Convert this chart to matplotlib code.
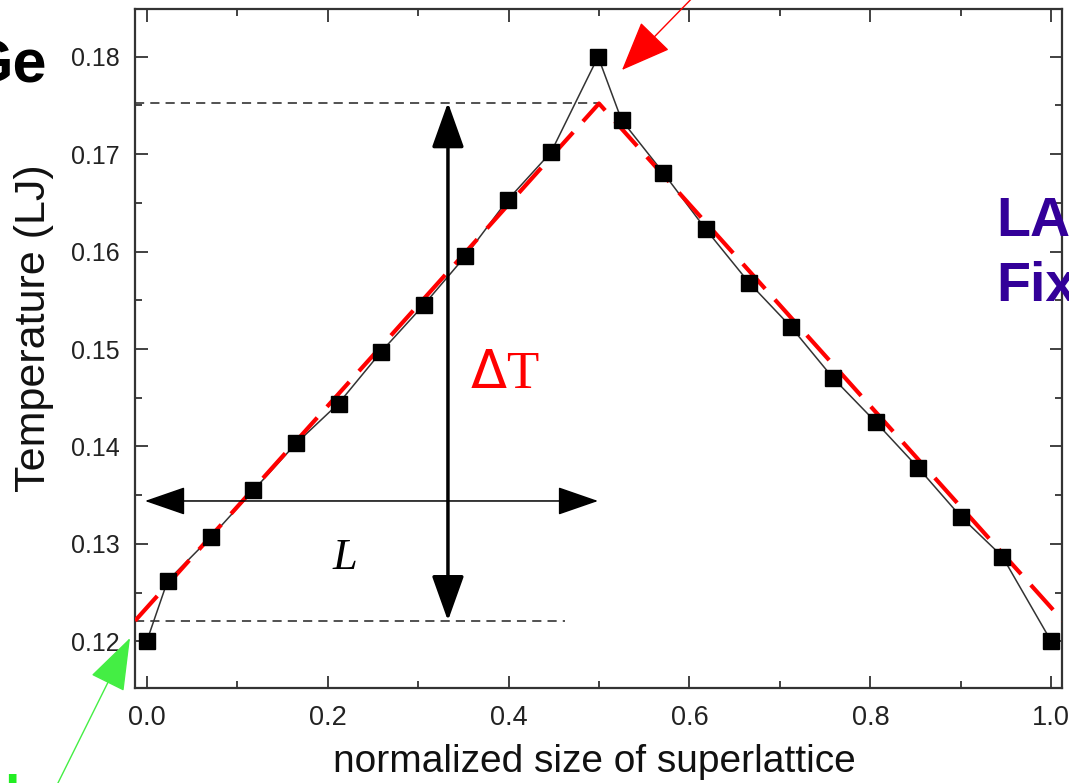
import numpy as np
import matplotlib
matplotlib.use("Agg")
import matplotlib.pyplot as plt
from matplotlib.ticker import MultipleLocator, FormatStrFormatter

plt.rcParams["font.family"] = ["Liberation Sans", "DejaVu Sans"]

# temperature profile along the superlattice
pos = [0.0, 0.023, 0.071, 0.118, 0.165, 0.212, 0.259, 0.306, 0.352, 0.399,
       0.447, 0.499, 0.525, 0.571, 0.618, 0.666, 0.712, 0.759, 0.806, 0.853,
       0.900, 0.946, 1.0]
temp = [0.1200, 0.1262, 0.1307, 0.1355, 0.1403, 0.1444, 0.1497, 0.1545,
        0.1595, 0.1653, 0.1702, 0.1800, 0.1735, 0.1681, 0.1623, 0.1568,
        0.1523, 0.1470, 0.1425, 0.1378, 0.1328, 0.1287, 0.1200]

# linear fit (red dashed)
fit_x = [-0.013, 0.5, 1.013]
fit_y = [0.1221, 0.1752, 0.1221]

t_hi = 0.1753
t_lo = 0.1221

fig = plt.figure(figsize=(10.69, 7.83), dpi=100, facecolor="white")
ax = fig.add_axes([0.1263, 0.1213, 0.8672, 0.8672])

ax.plot(pos, temp, color="#333333", lw=1.1, zorder=2)
ax.plot(fit_x, fit_y, color="red", lw=3, dashes=(8, 3.5), zorder=3)
ax.plot(pos, temp, ls="none", marker="s", ms=11.5, color="black", zorder=4)

ax.plot([-0.013, 0.5], [t_hi, t_hi], color="#222222", lw=1.1, dashes=(6, 4), zorder=1)
ax.plot([-0.013, 0.462], [t_lo, t_lo], color="#222222", lw=1.1, dashes=(6, 4), zorder=1)

# delta T arrow
ax.annotate("", xy=(0.333, t_hi), xytext=(0.333, t_lo),
            arrowprops=dict(arrowstyle="<|-|>,head_length=1.4,head_width=0.5",
                            color="black", lw=2.5, mutation_scale=20,
                            shrinkA=0, shrinkB=0))
# L arrow
ax.annotate("", xy=(-0.002, 0.1344), xytext=(0.499, 0.1344),
            arrowprops=dict(arrowstyle="<|-|>,head_length=1.3,head_width=0.45",
                            color="black", lw=1.1, mutation_scale=20,
                            shrinkA=0, shrinkB=0))

ax.text(0.396, 0.1473, r"$\Delta$T", color="red", fontsize=38,
        family="Liberation Serif", ha="center", va="center")
ax.text(0.219, 0.1285, "L", color="black", fontsize=32,
        family="Liberation Serif", style="italic", ha="center", va="center")

ax.set_xlim(-0.013, 1.012)
ax.set_ylim(0.1152, 0.1849)
ax.xaxis.set_major_locator(MultipleLocator(0.2))
ax.xaxis.set_minor_locator(MultipleLocator(0.1))
ax.yaxis.set_major_locator(MultipleLocator(0.01))
ax.yaxis.set_minor_locator(MultipleLocator(0.005))
ax.xaxis.set_major_formatter(FormatStrFormatter("%.1f"))
ax.yaxis.set_major_formatter(FormatStrFormatter("%.2f"))
ax.tick_params(which="both", direction="in", top=True, right=True,
               width=1.3, colors="#333333")
ax.tick_params(which="major", length=9, labelcolor="#222222")
ax.tick_params(which="minor", length=5)
ax.tick_params(axis="x", pad=12, labelsize=19.5)
ax.tick_params(axis="y", pad=11, labelsize=18)
for s in ax.spines.values():
    s.set_linewidth(1.6)
    s.set_color("#333333")

ax.set_xlabel("normalized size of superlattice", fontsize=28, color="#111111")
ax.set_ylabel("Temperature (LJ)", fontsize=31, color="#111111")
ax.xaxis.set_label_coords(0.496, -0.082)
ax.yaxis.set_label_coords(-0.087, 0.53)

# slide annotations around the chart
fig.text(47, 783 - 67, "Ge", transform=None, fontsize=44, fontweight="bold",
         ha="right", va="center", color="black")
fig.text(996, 783 - 222, "LA", transform=None, fontsize=40, fontweight="bold",
         ha="left", va="center", color="#330099", zorder=0)
fig.text(996, 783 - 287, "Fix", transform=None, fontsize=40, fontweight="bold",
         ha="left", va="center", color="#330099", zorder=0)
fig.text(4, 783 - 774, "lo", transform=None, fontsize=40, fontweight="bold",
         ha="left", va="top", color="#22ee22")

ax.annotate("", xy=(622, 783 - 70), xycoords="figure pixels",
            xytext=(702, 783 + 12), textcoords="figure pixels",
            arrowprops=dict(arrowstyle="-|>,head_length=1.6,head_width=0.65",
                            color="red", lw=1, mutation_scale=20,
                            shrinkA=0, shrinkB=0), annotation_clip=False)
ax.annotate("", xy=(130, 783 - 638), xycoords="figure pixels",
            xytext=(52, -12), textcoords="figure pixels",
            arrowprops=dict(arrowstyle="-|>,head_length=1.7,head_width=0.6",
                            color="#44ee44", lw=1, mutation_scale=20,
                            shrinkA=0, shrinkB=0), annotation_clip=False)

fig.savefig("out.png", dpi=100)
